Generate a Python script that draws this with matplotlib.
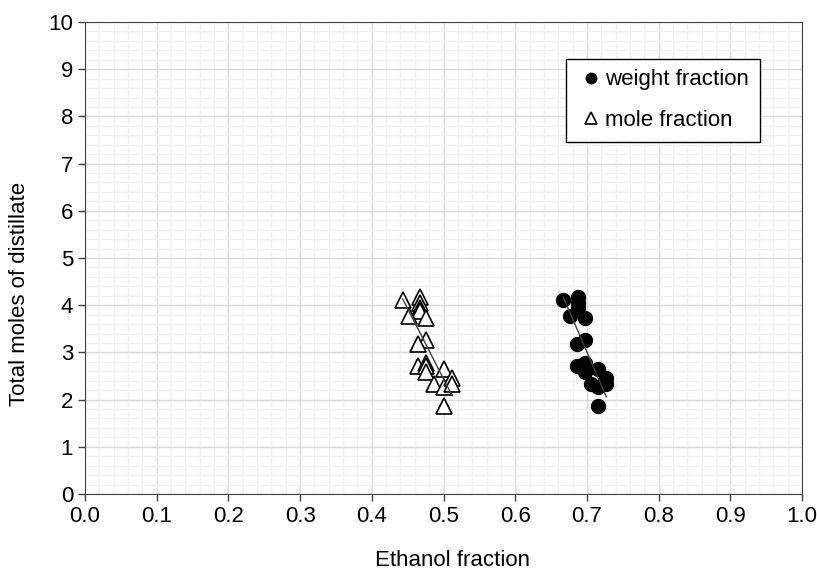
# Ethanol fraction vs total moles of distillate
import matplotlib.pyplot as plt
import numpy as np
from matplotlib.ticker import MultipleLocator

plt.rcParams['font.family'] = ['Liberation Sans', 'DejaVu Sans']

# data
total_moles = [4.10, 4.17, 4.05, 3.95, 3.88, 3.77, 3.73, 3.27, 3.17, 2.71,
               2.78, 2.72, 2.58, 2.65, 2.32, 2.26, 2.46, 2.34, 1.87]
mole_frac = [0.443, 0.467, 0.467, 0.467, 0.467, 0.452, 0.476, 0.476, 0.464, 0.464,
             0.476, 0.476, 0.476, 0.500, 0.487, 0.500, 0.512, 0.512, 0.500]
weight_frac = [0.667, 0.687, 0.687, 0.687, 0.687, 0.677, 0.697, 0.697, 0.686, 0.686,
               0.697, 0.695, 0.697, 0.716, 0.706, 0.716, 0.727, 0.727, 0.716]

fig = plt.figure(figsize=(8.17, 5.70), dpi=100)
ax = fig.add_axes([85 / 817, 76 / 570, 717 / 817, 472 / 570])

ax.plot(weight_frac, total_moles, 'o', color='black', markersize=10,
        label='weight fraction', zorder=3)
ax.plot(mole_frac, total_moles, '^', markerfacecolor='white', markeredgecolor='black',
        markeredgewidth=1.2, markersize=11, label='mole fraction', zorder=3)

# linear trendlines
for xs in (weight_frac, mole_frac):
    xs = np.array(xs)
    k, b = np.polyfit(xs, total_moles, 1)
    xl = np.array([xs.min(), xs.max()])
    ax.plot(xl, k * xl + b, color='#404040', linewidth=1, zorder=4)

ax.set_xlim(0, 1)
ax.set_ylim(0, 10)
ax.xaxis.set_minor_locator(MultipleLocator(0.02))
ax.yaxis.set_major_locator(MultipleLocator(1))
ax.yaxis.set_minor_locator(MultipleLocator(0.2))
ax.set_xticks(np.arange(0, 1.01, 0.1))
ax.set_xticklabels([f'{v:.1f}' for v in np.arange(0, 1.01, 0.1)])
ax.grid(which='major', color='#d9d9d9', linewidth=1)
ax.grid(which='minor', color='#f0f0f0', linewidth=1)
ax.set_axisbelow(True)
ax.tick_params(which='major', direction='out', length=5, width=1, color='#404040',
               labelsize=16, labelcolor='black')
ax.tick_params(which='minor', length=0)
for s in ax.spines.values():
    s.set_color('#404040')

ax.set_xlabel('Ethanol fraction', fontsize=16)
ax.set_ylabel('Total moles of distillate', fontsize=16)
ax.xaxis.set_label_coords(0.513, -0.118)
ax.yaxis.set_label_coords(-0.077, 0.424)

leg = ax.legend(loc='upper right', bbox_to_anchor=(0.941, 0.9216), fontsize=16,
                markerscale=0.75, handlelength=1.3, handletextpad=0.0,
                labelspacing=0.89, borderpad=0.47, fancybox=False, framealpha=1,
                borderaxespad=0)
leg.get_frame().set_edgecolor('black')
leg.get_frame().set_linewidth(1)

fig.savefig('out.png', dpi=100)
